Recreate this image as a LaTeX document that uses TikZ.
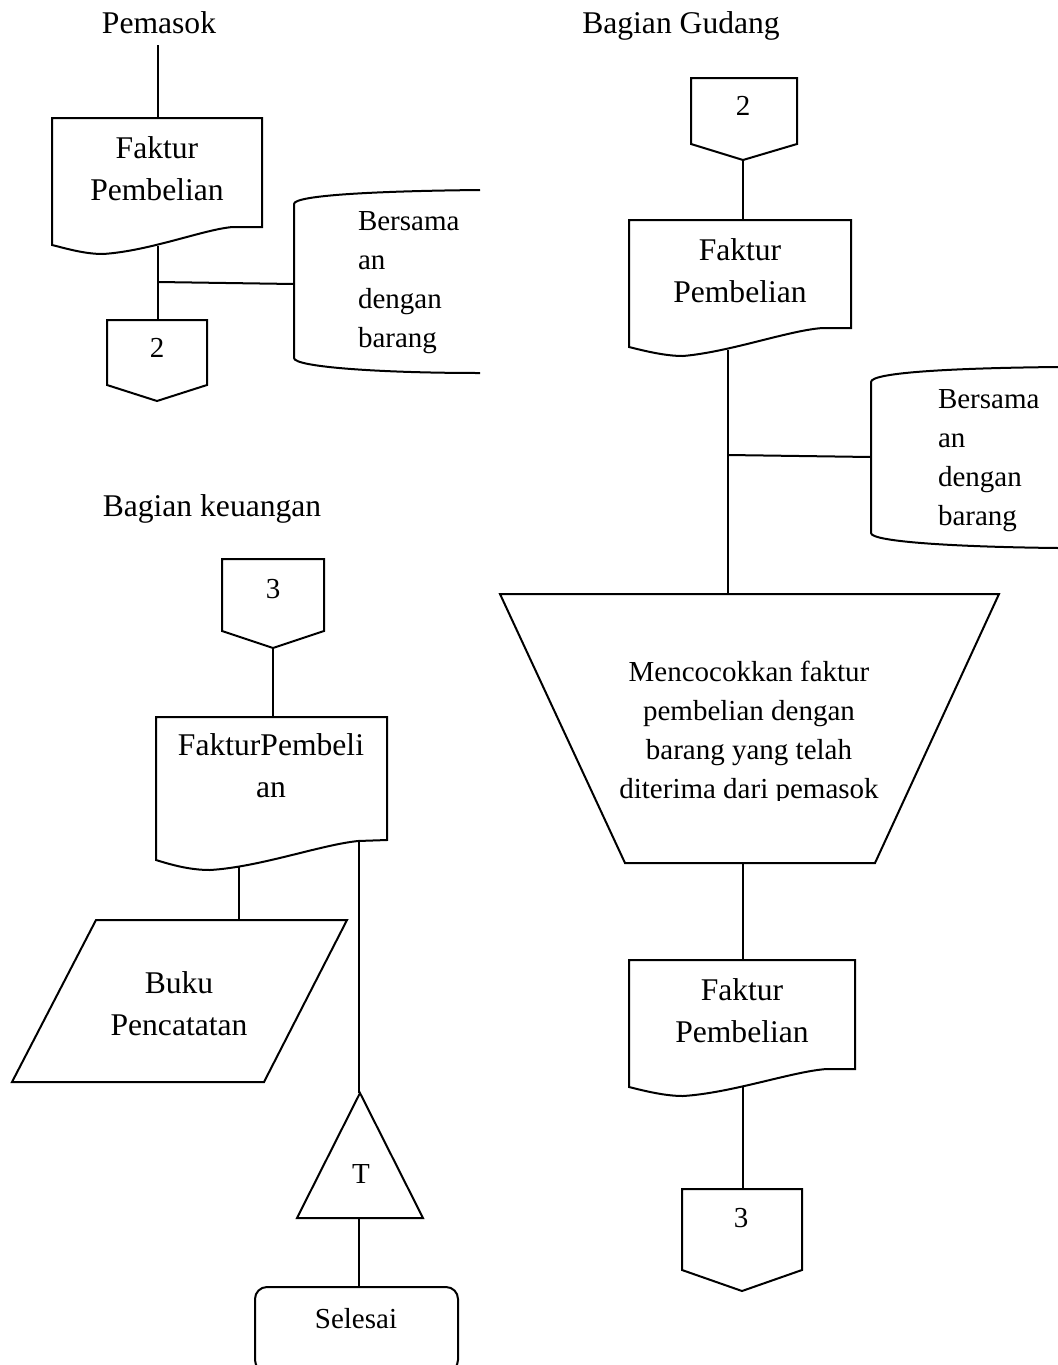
\documentclass[tikz,border=0pt]{standalone}
\usepackage{fontspec}
\setmainfont{Liberation Serif}
\begin{document}
\begin{tikzpicture}[x=0.5pt,y=0.5pt,yscale=-1,xscale=1,line width=1pt,
  big/.style={font=\fontsize{15.8}{20.8}\selectfont,inner sep=0pt,align=center,anchor=base},
  small/.style={font=\fontsize{14.5}{19.45}\selectfont,inner sep=0pt,align=center,anchor=base},
  note/.style={small,align=left,anchor=base west}]
\useasboundingbox (0,0) rectangle (1058,1365);
\clip (0,0) rectangle (1058,1365);

% Text Node
\node [big] (pemasok) at (159,33) {Pemasok};
% Text Node
\node [big] (gudang) at (681,33) {Bagian Gudang};
% Text Node
\node [big] (keuangan) at (212,516) {Bagian keuangan};

%Shape: Document [faktur1]
\draw (52,118) -- (262,118) -- (262,227) -- (233,227) .. controls (205,229) and (150,251) .. (103,254) .. controls (85,254) and (68,249) .. (52,245) -- cycle;
\node [big] (faktur1) at (157,200) {Faktur\\Pembelian};
\coordinate (pemasok s) at (158,45);
\coordinate (faktur1 n) at (158,118);
\coordinate (faktur1 s) at (158,246);
\coordinate (j1) at (158,282);

%Shape: Off-page [off2a]
\draw (107,320) -- (207,320) -- (207,385) -- (157,401) -- (107,385) -- cycle;
\node [small] (off2a) at (157,357) {2};
\coordinate (off2a n) at (158,320);

%Shape: Storage [store1]
\draw (480,190) .. controls (380,191) and (294,195) .. (294,204) -- (294,358) .. controls (294,367) and (380,373) .. (480,373);
\node [note] (store1) at (357,347) {Bersama\\an\\dengan\\barang};
\coordinate (store1 w) at (294,284);

%Shape: Off-page [off2b]
\draw (691,78) -- (797,78) -- (797,144) -- (743,160) -- (691,144) -- cycle;
\node [small] (off2b) at (743,115) {2};
\coordinate (off2b s) at (743,160);

%Shape: Document [faktur2]
\draw (629,220) -- (851,220) -- (851,328) -- (823,328) .. controls (790,330) and (730,352) .. (683,356) .. controls (665,356) and (645,351) .. (629,347) -- cycle;
\node [big] (faktur2) at (740,302) {Faktur\\Pembelian};
\coordinate (faktur2 n) at (743,220);
\coordinate (faktur2 s) at (728,350);
\coordinate (j2) at (728,455);

%Shape: Storage [store2]
\draw (1058,367) .. controls (960,368) and (871,372) .. (871,382) -- (871,533) .. controls (871,542) and (960,547) .. (1058,548);
\node [note] (store2) at (937,525) {Bersama\\an\\dengan\\barang};
\coordinate (store2 w) at (871,457);

%Shape: Manual operation [proc]
\draw (500,594) -- (999,594) -- (875,863) -- (625,863) -- cycle;
\begin{scope}
\clip (500,600) rectangle (1000,800);
\node [small] (proc) at (749,798) {Mencocokkan faktur\\pembelian dengan\\barang yang telah\\diterima dari pemasok};
\end{scope}
\coordinate (proc n) at (728,594);
\coordinate (proc s) at (743,863);

%Shape: Document [faktur3]
\draw (629,960) -- (855,960) -- (855,1069) -- (827,1069) .. controls (794,1071) and (732,1093) .. (683,1096) .. controls (665,1096) and (645,1091) .. (629,1087) -- cycle;
\node [big] (faktur3) at (742,1042) {Faktur\\Pembelian};
\coordinate (faktur3 n) at (743,960);
\coordinate (faktur3 s) at (743,1087);

%Shape: Off-page [off3b]
\draw (682,1189) -- (802,1189) -- (802,1270) -- (742,1291) -- (682,1270) -- cycle;
\node [small] (off3b) at (741,1227) {3};
\coordinate (off3b n) at (743,1189);

%Shape: Off-page [off3a]
\draw (222,559) -- (324,559) -- (324,631) -- (273,648) -- (222,631) -- cycle;
\node [small] (off3a) at (273,598) {3};
\coordinate (off3a s) at (273,648);

%Shape: Document [faktur4]
\draw (156,717) -- (387,717) -- (387,840) -- (358,841) .. controls (320,845) and (260,867) .. (210,870) .. controls (190,870) and (172,865) .. (156,860) -- cycle;
\node [big] (faktur4) at (271,797) {FakturPembeli\\an};
\coordinate (faktur4 n) at (273,717);
\coordinate (faktur4 s) at (239,867);
\coordinate (faktur4 se) at (359,841);

%Shape: Parallelogram [buku]
\draw (96,920) -- (347,920) -- (264,1082) -- (12,1082) -- cycle;
\node [big] (buku) at (179,1035) {Buku\\Pencatatan};
\coordinate (buku n) at (239,920);

%Shape: Triangle [arsip]
\draw (360,1093) -- (423,1218) -- (297,1218) -- cycle;
\node [small] (arsip) at (361,1183) {T};
\coordinate (arsip n) at (359,1093);
\coordinate (arsip s) at (359,1218);

%Shape: Terminator [selesai]
\draw [rounded corners=6pt] (255,1287) rectangle (458,1372);
\node [small] (selesai) at (356,1328) {Selesai};
\coordinate (selesai n) at (359,1287);

%Straight Lines
\draw (pemasok s) -- (faktur1 n);
\draw (faktur1 s) -- (off2a n);
\draw (j1) -- (store1 w);
\draw (off2b s) -- (faktur2 n);
\draw (faktur2 s) -- (proc n);
\draw (j2) -- (store2 w);
\draw (proc s) -- (faktur3 n);
\draw (faktur3 s) -- (off3b n);
\draw (off3a s) -- (faktur4 n);
\draw (faktur4 s) -- (buku n);
\draw (faktur4 se) -- (arsip n);
\draw (arsip s) -- (selesai n);

\end{tikzpicture}
\end{document}
